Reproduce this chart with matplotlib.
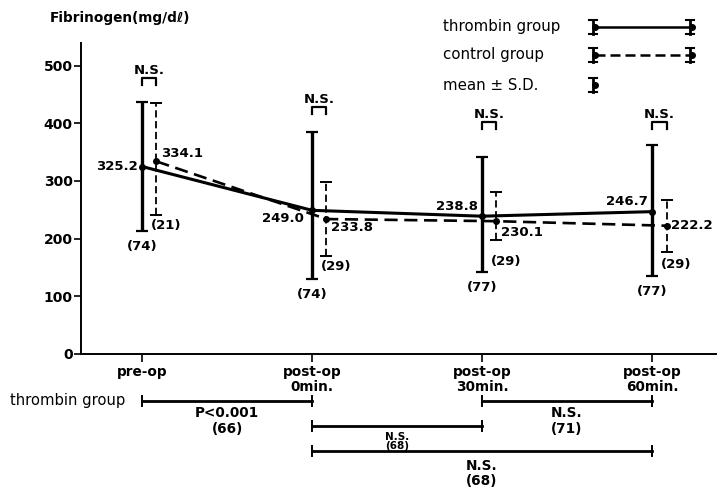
import numpy as np
import matplotlib.pyplot as plt
from matplotlib.lines import Line2D
from matplotlib.transforms import Affine2D

plt.rcParams['font.family'] = ['DejaVu Sans']
plt.rcParams['font.weight'] = 'bold'

times = ['pre-op', 'post-op\n0min.', 'post-op\n30min.', 'post-op\n60min.']
thrombin_mean = [325.2, 249.0, 238.8, 246.7]
thrombin_sd_hi = [113, 137, 103, 116]
thrombin_sd_lo = [113, 120, 97, 112]
thrombin_n = [74, 74, 77, 77]
control_mean = [334.1, 233.8, 230.1, 222.2]
control_sd_hi = [101, 65, 51, 45]
control_sd_lo = [93, 64, 33, 45]
control_n = [21, 29, 29, 29]

# thrombin group paired comparisons below the axis: (from, to, result, n)
comparisons = [(0, 1, 'P<0.001', 66), (1, 2, 'N.S.', 68),
               (2, 3, 'N.S.', 71), (1, 3, 'N.S.', 68)]

W, H = 717, 490
fig = plt.figure(figsize=(W / 100, H / 100), dpi=100)
ax = fig.add_axes([81 / W, (H - 353.5) / H, (W - 81) / W, 310.5 / H])
px = Affine2D().scale(1 / W, -1 / H).translate(0, 1) + fig.transFigure

x = np.arange(len(times))
off = 0.085
xc = x + off

ax.plot(x, thrombin_mean, color='black', lw=2.2, marker='o', ms=4, zorder=3)
ax.errorbar(x, thrombin_mean, yerr=[thrombin_sd_lo, thrombin_sd_hi], fmt='none',
            ecolor='black', elinewidth=2.4, capsize=4.5, capthick=1.6, zorder=3)
ax.plot(xc, control_mean, color='black', lw=1.9, ls=(0, (5, 2.5)), marker='o', ms=4, zorder=3)
eb = ax.errorbar(xc, control_mean, yerr=[control_sd_lo, control_sd_hi], fmt='none',
                 ecolor='black', elinewidth=1.3, capsize=4, capthick=1.4, zorder=3)
eb[2][0].set_linestyle((0, (4, 2)))

ax.set_xlim(-0.359, 3.382)
ax.set_ylim(0, 540)
ax.set_yticks([0, 100, 200, 300, 400, 500])
ax.set_xticks(x)
ax.set_xticklabels(times, fontsize=9.8, linespacing=1.1)
ax.tick_params(axis='y', direction='out', length=5, width=1.2, labelsize=10, pad=1)
ax.tick_params(axis='x', direction='out', length=6, width=1.2, pad=2)
for s in ['top', 'right']:
    ax.spines[s].set_visible(False)
for s in ['left', 'bottom']:
    ax.spines[s].set_linewidth(1.4)

# mean value labels
fs = 9.5
t_off = [(-3, 0), (-6, -6), (-3, 7), (-3, 7)]
c_off = [(3, 6), (3, -6), (3, -8), (3, 0)]
cn_off = [-8, -8, -15, -9]
for i in range(4):
    m = thrombin_mean[i]
    ax.annotate(f'{m:.1f}', (x[i], m), xytext=t_off[i], textcoords='offset points',
                ha='right', va='center', fontsize=fs)
    c = control_mean[i]
    ax.annotate(f'{c:.1f}', (xc[i], c), xytext=c_off[i], textcoords='offset points',
                ha='left', va='center', fontsize=fs)
    ax.annotate(f'({thrombin_n[i]})', (x[i], m - thrombin_sd_lo[i]), xytext=(0, -11),
                textcoords='offset points', ha='center', va='center', fontsize=fs)
    ax.annotate(f'({control_n[i]})', (xc[i], c - control_sd_lo[i]), xytext=(-4, cn_off[i]),
                textcoords='offset points', ha='left', va='center', fontsize=fs)

# N.S. brackets between groups at each time point
bracket_top = [479, 429, 403, 403]
for i in range(4):
    top = bracket_top[i]
    ax.plot([x[i], x[i], xc[i], xc[i]], [top - 12, top, top, top - 12],
            color='black', lw=1.6, clip_on=False)
    ax.text((x[i] + xc[i]) / 2, top + 13, 'N.S.', ha='center', va='center', fontsize=9.5)

# comparison bars below the axis
bar_y = {(0, 1): -82.6, (1, 2): -126, (2, 3): -82.6, (1, 3): -169.6}
for a, b, res, n in comparisons:
    yb = bar_y[(a, b)]
    ax.plot([x[a], x[b]], [yb, yb], color='black', lw=2, clip_on=False)
    for xe in (x[a], x[b]):
        ax.plot([xe, xe], [yb - 8, yb + 8], color='black', lw=1.4, clip_on=False)
    mid = (x[a] + x[b]) / 2
    if (a, b) == (1, 2):
        ax.text(mid, yb - 19, res, ha='center', va='center', fontsize=7.5, clip_on=False)
        ax.text(mid, yb - 35, f'({n})', ha='center', va='center', fontsize=7.5, clip_on=False)
    else:
        dd = 21 if yb > -100 else 26
        ax.text(mid, yb - dd, res, ha='center', va='center', fontsize=9.8, clip_on=False)
        ax.text(mid, yb - dd - 27, f'({n})', ha='center', va='center', fontsize=9.8, clip_on=False)
ax.text(-0.1, -81, 'thrombin group', ha='right', va='center', fontsize=10.6,
        fontweight='normal', clip_on=False)

# y-axis title
fig.text(50, 18, 'Fibrinogen(mg/dℓ)', transform=px, ha='left', va='center', fontsize=9.8)


# legend drawn by hand
def sd_symbol(xp, yp):
    fig.add_artist(Line2D([xp, xp], [yp - 7, yp + 7], color='black', lw=2, transform=px))
    for yy in (yp - 7, yp + 7):
        fig.add_artist(Line2D([xp - 4, xp + 4], [yy, yy], color='black', lw=1.5, transform=px))
    fig.add_artist(Line2D([xp + 2], [yp], color='black', marker='o', ms=4, transform=px))


leg = [('thrombin group', 27, '-'), ('control group', 55, (0, (4, 2))), ('mean ± S.D.', 85, None)]
for label, yp, ls in leg:
    fig.text(443, yp, label, transform=px, ha='left', va='center', fontsize=10.8,
             fontweight='normal')
    sd_symbol(593, yp)
    if ls is not None:
        fig.add_artist(Line2D([595, 690], [yp, yp], color='black', lw=1.8, ls=ls, transform=px))
        sd_symbol(690, yp)

fig.savefig('out.png', dpi=100)
